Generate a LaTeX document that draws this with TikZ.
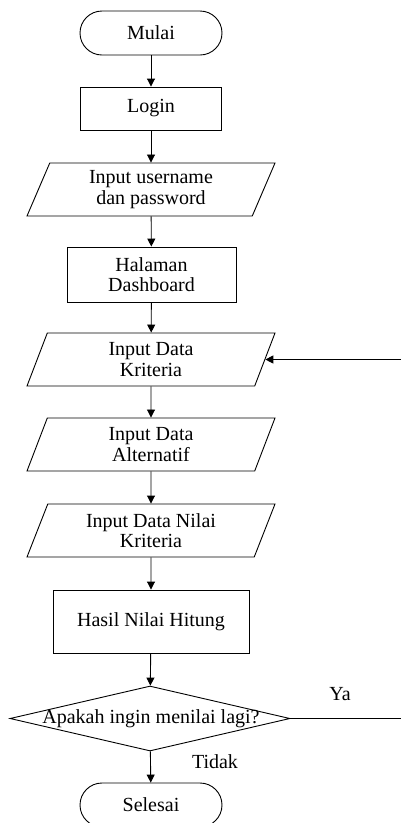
\documentclass[tikz,border=0pt]{standalone}
\usepackage{fontspec}
\setmainfont{Liberation Serif}
\usetikzlibrary{arrows.meta,positioning,shapes.geometric}

\begin{document}
\begin{tikzpicture}[x=1pt, y=-1pt, line width=0.9pt,
  font=\fontsize{20}{20.5}\selectfont,
  terminal/.style={draw, rounded corners=22pt, minimum width=142pt, minimum height=44pt, inner sep=0pt},
  process/.style={draw, rectangle, minimum height=43pt, inner sep=0pt, align=center},
  io/.style={draw, trapezium, trapezium left angle=59, trapezium right angle=121, trapezium stretches body, minimum width=248pt, minimum height=53pt, inner sep=0pt, align=center},
  decision/.style={draw, diamond, aspect=4.3, minimum width=280pt, minimum height=65pt, inner sep=0pt},
  flow/.style={-{Triangle[length=8pt,width=8pt]}}]
  \clip (0,0) rectangle (401,823);

  % Start and login
  \node[terminal] (mulai) at (151,33) {Mulai};
  \node[process, minimum width=141pt] (login) at (151,108.5) {Login};
  \node[io] (user) at (151,189.5) {Input username\\dan password};
  \node[process, minimum width=169pt, minimum height=55pt] (dash) at (151.5,274.5) {Halaman\\Dashboard};

  % Data input
  \node[io] (krit) at (151,359.5) {Input Data\\Kriteria};
  \node[io] (alt) at (151,444.5) {Input Data\\Alternatif};
  \node[io] (nilai) at (151,530.5) {Input Data Nilai\\Kriteria};

  % Result and decision
  \node[process, minimum width=196pt, minimum height=63pt] (hasil) at (151,621.5) {Hasil Nilai Hitung};
  \node[decision] (tanya) at (150,718.5) {};
  \node (tanyatext) at (151,718.5) {Apakah ingin menilai lagi?};
  \node[terminal] (selesai) at (151,805) {Selesai};

  \coordinate (kembali) at (401,359.5);
  \coordinate (ujung) at (401,718.5);

  \draw[flow] (mulai) -- (login);
  \draw[flow] (login) -- (user);
  \draw[flow] (user) -- (dash);
  \draw[flow] (dash) -- (krit);
  \draw[flow] (krit) -- (alt);
  \draw[flow] (alt) -- (nilai);
  \draw[flow] (nilai) -- (hasil);
  \draw[flow] (hasil) -- (tanya);
  \draw[flow] (tanya) -- (selesai);

  % Loop back
  \draw (tanya.east) -- (ujung);
  \draw[flow] (kembali) -- (krit.east);

  \node (ya) at (340,694) {Ya};
  \node (tidak) at (215,762) {Tidak};
\end{tikzpicture}
\end{document}
